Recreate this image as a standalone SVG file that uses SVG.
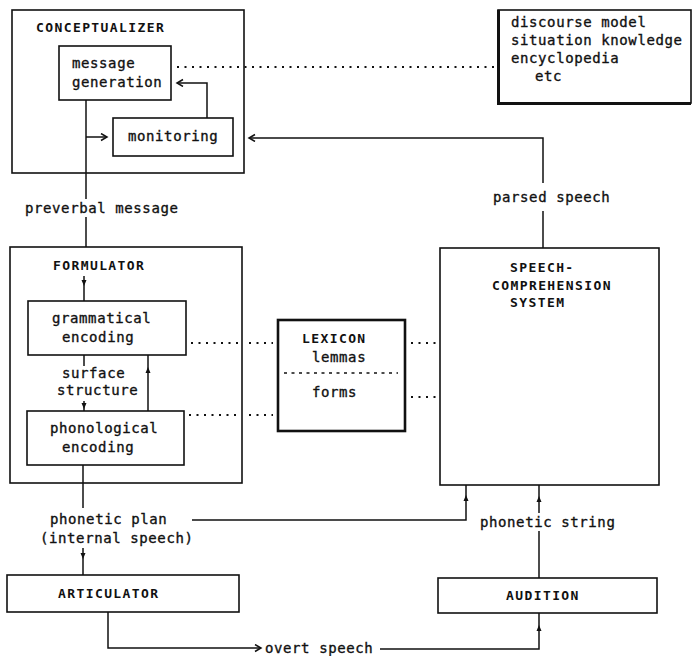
<svg xmlns="http://www.w3.org/2000/svg" width="692" height="656" viewBox="0 0 692 656">
<defs>
<style>
.box{fill:#fff;stroke:#111;stroke-width:1.6}
.thick{fill:#fff;stroke:#111;stroke-width:2.6}
.ln{fill:none;stroke:#111;stroke-width:1.5}
.dot{fill:none;stroke:#111;stroke-width:2;stroke-dasharray:2 5.5}
.dash{fill:none;stroke:#111;stroke-width:1.6;stroke-dasharray:3 4.5}
.t{font-family:"DejaVu Sans Mono","Liberation Mono",monospace;font-size:14px;letter-spacing:0.6px;fill:#111;stroke:#111;stroke-width:0.35}
.h{font-family:"DejaVu Sans Mono","Liberation Mono",monospace;font-size:13px;font-weight:bold;letter-spacing:1.4px;fill:#111}
.ah{fill:#111}
</style>
<marker id="chev" markerUnits="userSpaceOnUse" markerWidth="9" markerHeight="9" refX="7" refY="4" orient="auto">
<path d="M1,0.5 L7,4 L1,7.5" fill="none" stroke="#111" stroke-width="1.5"/>
</marker>
<path id="up" d="M-2.5,3 L0,-3 L2.5,3 Z"/>
<path id="down" d="M-2.5,-3 L0,3 L2.5,-3 Z"/>
</defs>
<rect width="692" height="656" fill="#fff"/>

<g id="conceptualizer">
<rect class="box" x="12" y="10" width="232" height="163"/>
<text class="h" x="36" y="32">CONCEPTUALIZER</text>
</g>
<g id="message-generation">
<rect class="box" x="59" y="46" width="112" height="54"/>
<text class="t" x="72" y="68">message</text>
<text class="t" x="72" y="87">generation</text>
</g>
<g id="monitoring">
<rect class="box" x="113" y="118" width="120" height="38"/>
<text class="t" x="128" y="141">monitoring</text>
</g>
<g id="knowledge">
<rect class="box" x="498" y="10" width="193" height="93"/>
<path d="M498.5,10 V103.5 H691" fill="none" stroke="#111" stroke-width="3"/>
<text class="t" x="511" y="27">discourse model</text>
<text class="t" x="511" y="45">situation knowledge</text>
<text class="t" x="511" y="63">encyclopedia</text>
<text class="t" x="535" y="81">etc</text>
</g>
<g id="formulator">
<rect class="box" x="10" y="247" width="232" height="236"/>
<text class="h" x="53" y="270">FORMULATOR</text>
</g>
<g id="grammatical-encoding">
<rect class="box" x="28" y="301" width="158" height="54"/>
<text class="t" x="52" y="323">grammatical</text>
<text class="t" x="62" y="342">encoding</text>
</g>
<g id="phonological-encoding">
<rect class="box" x="27" y="411" width="157" height="54"/>
<text class="t" x="50" y="433">phonological</text>
<text class="t" x="62" y="452">encoding</text>
</g>
<g id="lexicon">
<rect class="thick" x="278" y="320" width="127" height="111"/>
<text class="h" x="302" y="343">LEXICON</text>
<text class="t" x="312" y="362">lemmas</text>
<path class="dash" d="M284,373 H398"/>
<text class="t" x="312" y="397">forms</text>
</g>
<g id="speech-comprehension">
<rect class="box" x="440" y="248" width="219" height="237"/>
<text class="h" x="510" y="272">SPEECH-</text>
<text class="h" x="492" y="290">COMPREHENSION</text>
<text class="h" x="510" y="307">SYSTEM</text>
</g>
<g id="articulator">
<rect class="box" x="7" y="575" width="232" height="37"/>
<text class="h" x="58" y="598">ARTICULATOR</text>
</g>
<g id="audition">
<rect class="box" x="438" y="578" width="219" height="35"/>
<text class="h" x="506" y="600">AUDITION</text>
</g>

<g id="connectors">
<path class="ln" d="M86,100 V199"/>
<path class="ln" d="M86,217 V247"/>
<path class="ln" d="M86,137 H107" marker-end="url(#chev)"/>
<path class="ln" d="M207,118 V83 H177" marker-end="url(#chev)"/>
<path class="ln" d="M543,248 V211"/>
<path class="ln" d="M543,183 V138 H249" marker-end="url(#chev)"/>
<path class="dot" d="M177,67 H495"/>
<path class="ln" d="M84,276 V301"/>
<use href="#down" class="ah" x="84" y="283"/>
<path class="ln" d="M84,355 V366"/>
<path class="ln" d="M84,401 V411"/>
<use href="#down" class="ah" x="84" y="406"/>
<path class="ln" d="M148,411 V355"/>
<use href="#up" class="ah" x="148" y="370"/>
<path class="dot" d="M191,343 H238"/>
<path class="dot" d="M249,343 H273"/>
<path class="dot" d="M189,415 H238"/>
<path class="dot" d="M249,415 H273"/>
<path class="dot" d="M411,343 H437"/>
<path class="dot" d="M411,397 H437"/>
<path class="ln" d="M83,465 V508"/>
<path class="ln" d="M83,548 V575"/>
<use href="#down" class="ah" x="83" y="556"/>
<path class="ln" d="M192,520 H466 V485"/>
<use href="#up" class="ah" x="466" y="498"/>
<path class="ln" d="M539,578 V531"/>
<path class="ln" d="M539,513 V485"/>
<use href="#up" class="ah" x="539" y="499"/>
<path class="ln" d="M380,649 H539 V613"/>
<use href="#up" class="ah" x="539" y="628"/>
<path class="ln" d="M108,612 V648 H261" marker-end="url(#chev)"/>
</g>

<g id="labels">
<text class="t" x="25" y="213">preverbal message</text>
<text class="t" x="493" y="202">parsed speech</text>
<text class="t" x="62" y="378">surface</text>
<text class="t" x="57" y="395">structure</text>
<text class="t" x="50" y="524">phonetic plan</text>
<text class="t" x="40" y="543">(internal speech)</text>
<text class="t" x="480" y="527">phonetic string</text>
<text class="t" x="265" y="653">overt speech</text>
</g>
</svg>
